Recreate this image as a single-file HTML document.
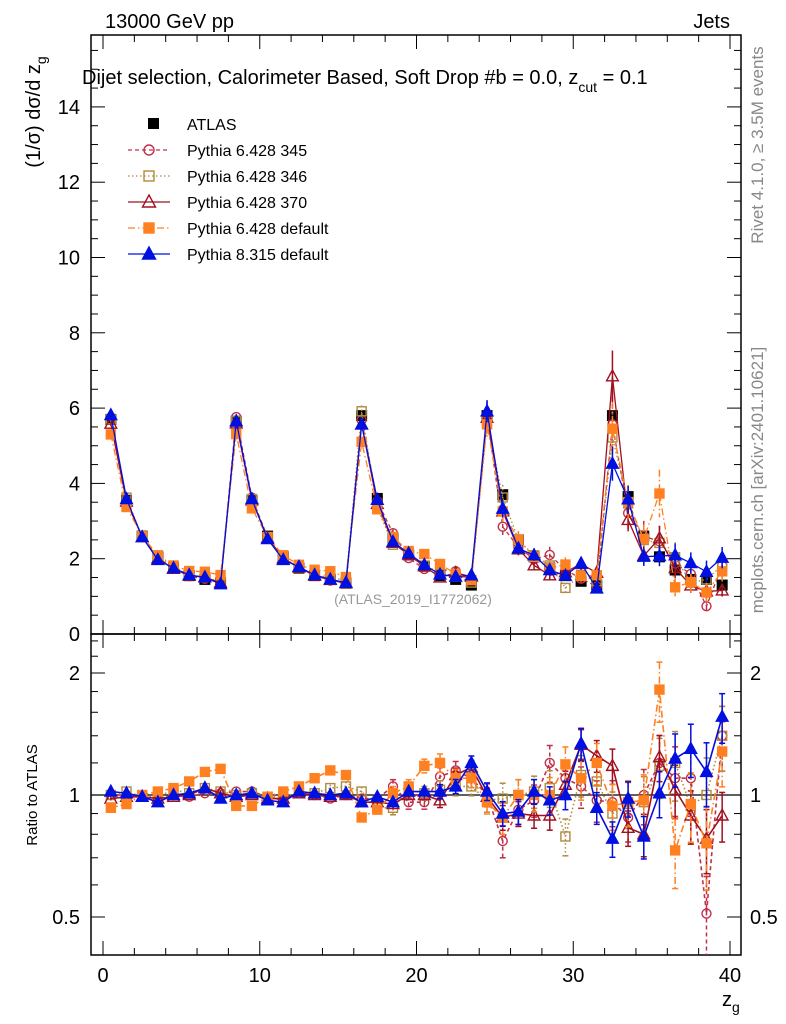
<!DOCTYPE html>
<html><head><meta charset="utf-8"><style>
body{margin:0;background:#fff;}
svg{display:block;font-family:"Liberation Sans",sans-serif;}
</style></head><body>
<svg id="c" width="786" height="1024" viewBox="0 0 786 1024"></svg>
<script>
const bins = Array.from({length:40},(_,i)=>i+0.5);
const atlas = [5.7,3.55,2.6,2.05,1.75,1.55,1.45,1.35, 5.65,3.55,2.6,2.05,1.75,1.55,1.45,1.35, 5.8,3.6,2.55,2.1,1.8,1.55,1.45,1.3, 5.8,3.7,2.5,2.05,1.75,1.55,1.4,1.3, 5.8,3.65,2.6,2.05,1.7,1.45,1.45,1.3];
const r345 = [1.0,1.0,0.99,0.98,1.0,0.99,1.01,1.01,1.02,1.02,0.99,0.97,1.01,1.0,0.98,1.0,0.98,0.98,1.05,0.96, 0.96,1.11,1.15,1.1,1.0,0.77,0.92,0.97,1.2,1.1,1.05,0.97,0.96,0.88,1.0,1.2,1.1,1.1,0.51,1.4];
const r346 = [1.0,1.02,0.99,0.99,1.03,1.01,1.04,1.02,1.0,1.01,0.99,0.99,1.01,1.01,1.04,1.05,1.02,0.93,0.93,1.03, 1.01,1.03,1.05,1.05,0.97,0.98,1.0,1.02,1.04,0.79,1.12,1.08,0.9,0.95,0.96,1.18,1.2,0.94,1.0,1.4];
const r370 = [0.98,0.99,0.99,0.98,0.99,1.0,1.04,1.01,0.99,1.0,0.98,0.98,1.01,1.0,0.99,1.0,0.96,0.96,0.95,1.0, 1.0,0.97,1.12,1.17,0.99,0.88,0.9,0.89,0.89,1.06,1.33,1.25,1.18,0.83,0.8,1.24,1.03,0.89,0.78,0.89];
const rdef6 = [0.93,0.95,1.0,1.02,1.04,1.08,1.14,1.16,0.94,0.94,0.99,1.02,1.05,1.1,1.15,1.12,0.88,0.92,1.01,1.05, 1.18,1.2,1.1,1.1,0.96,0.88,1.0,1.0,1.0,1.19,1.1,1.2,0.94,0.96,0.97,1.82,0.73,0.95,0.76,1.28];
const rpy8 = [1.02,1.01,0.99,0.96,1.0,1.01,1.04,0.98,1.0,1.01,0.97,0.96,1.02,1.01,1.0,1.01,0.96,0.99,0.96,1.02, 1.02,1.02,1.05,1.2,1.02,0.9,0.91,1.02,0.97,1.0,1.34,0.93,0.78,0.98,0.79,1.01,1.23,1.3,1.14,1.56];
const relErr = [0.01,0.01,0.01,0.01,0.01,0.01,0.015,0.015,0.01,0.01,0.01,0.01,0.015,0.015,0.015,0.02,0.02,0.02,0.03,0.03, 0.03,0.04,0.04,0.04,0.05,0.07,0.07,0.07,0.08,0.08,0.09,0.09,0.1,0.1,0.12,0.13,0.15,0.15,0.18,0.14];
const mainYTicks = [0,2,4,6,8,10,12,14];
const xTicks = [0,10,20,30,40];
const ratioTicks = [0.5,1,2];

const NS="http://www.w3.org/2000/svg", svg=document.getElementById('c');
const L=91,R=741,T=35,MB=634,RB=955;
const X=v=>103+v*(730-103)/40;
const Y=v=>634-v*37.65;
const RY=v=>795-122*Math.log2(v);
function el(t,a,p){const e=document.createElementNS(NS,t);for(const k in a)e.setAttribute(k,a[k]);(p||svg).appendChild(e);return e;}
const defs=el('defs',{});
const c1=el('clipPath',{id:'cm'},defs);el('rect',{x:L,y:T,width:R-L,height:MB-T},c1);
const c2=el('clipPath',{id:'cr'},defs);el('rect',{x:L,y:MB,width:R-L,height:RB-MB},c2);

const f1=el('rect',{x:L,y:T,width:R-L,height:MB-T,fill:'none',stroke:'#000','stroke-width':1.5});

const f2=el('rect',{x:L,y:MB,width:R-L,height:RB-MB,fill:'none',stroke:'#000','stroke-width':1.5});


function txt(s,x,y,o){const e=el('text',Object.assign({x:x,y:y,'font-size':20,fill:'#000'},o||{}));e.textContent=s;return e;}

for(let v=0;v<=40;v+=2){const maj=v%10===0,len=maj?14:7;
 [[T,1],[MB,-1],[MB,1],[RB,-1]].forEach(([yy,d])=>el('line',{x1:X(v),x2:X(v),y1:yy,y2:yy+d*len,stroke:'#000','stroke-width':1}));}
xTicks.forEach(v=>{const t=txt(String(v),X(v),982,{'text-anchor':'middle'});});
for(let v=0;v<=15.5;v+=0.5){const maj=v%2===0,len=maj?14:7;if(Y(v)<T)continue;
 el('line',{x1:L,x2:L+len,y1:Y(v),y2:Y(v),stroke:'#000'});el('line',{x1:R,x2:R-len,y1:Y(v),y2:Y(v),stroke:'#000'});}
mainYTicks.forEach(v=>{const t=txt(String(v),80,Y(v)+7,{'text-anchor':'end'});});
const rminor=[0.5,0.6,0.7,0.8,0.9,1,1.2,1.4,1.6,1.8,2,2.2,2.4];
rminor.forEach(v=>{const maj=ratioTicks.includes(v),len=maj?14:7;
 el('line',{x1:L,x2:L+len,y1:RY(v),y2:RY(v),stroke:'#000'});el('line',{x1:R,x2:R-len,y1:RY(v),y2:RY(v),stroke:'#000'});});
ratioTicks.forEach(v=>{const s=String(v);
 const a=txt(s,80,RY(v)+7,{'text-anchor':'end'});
 const b=txt(s,750,RY(v)+7);});
el('line',{x1:L,x2:R,y1:RY(1),y2:RY(1),stroke:'#000','stroke-width':1.2});

const series=[
 {name:'Pythia 6.428 345',r:r345,col:'#c0304a',dash:'4,3',m:'circle',open:true},
 {name:'Pythia 6.428 346',r:r346,col:'#b08a40',dash:'1.5,2.5',m:'square',open:true},
 {name:'Pythia 6.428 370',r:r370,col:'#a01020',dash:'',m:'tri',open:true},
 {name:'Pythia 6.428 default',r:rdef6,col:'#ff8020',dash:'7,3,1.5,3',m:'square',open:false},
 {name:'Pythia 8.315 default',r:rpy8,col:'#0010e0',dash:'',m:'tri',open:false}];
function marker(g,m,x,y,col,open,sz){
 sz=sz||1;const f=open?'none':col,sw=1.4;
 if(m==='circle')return el('circle',{cx:x,cy:y,r:5*sz,fill:'#fff',stroke:col,'stroke-width':sw,'fill-opacity':open?0:1},g);
 if(m==='square')return el('rect',{x:x-5*sz,y:y-5*sz,width:10*sz,height:10*sz,fill:f,stroke:col,'stroke-width':sw},g);
 return el('path',{d:`M${x},${y-7*sz}L${x+6.5*sz},${y+5*sz}L${x-6.5*sz},${y+5*sz}Z`,fill:f,stroke:col,'stroke-width':sw},g);
}
const ga=el('g',{'clip-path':'url(#cm)'});
bins.forEach((b,i)=>{el('rect',{x:X(b)-5.5,y:Y(atlas[i])-5.5,width:11,height:11,fill:'#000'},ga);});
series.forEach((s,si)=>{
 const g=el('g',{'clip-path':'url(#cm)'});
 const gr=el('g',{'clip-path':'url(#cr)'});
 const vals=atlas.map((a,i)=>a*s.r[i]);
 el('polyline',{points:bins.map((b,i)=>X(b)+','+Y(vals[i])).join(' '),fill:'none',stroke:s.col,'stroke-width':1.3,'stroke-dasharray':s.dash},g);
 el('polyline',{points:bins.map((b,i)=>X(b)+','+RY(s.r[i])).join(' '),fill:'none',stroke:s.col,'stroke-width':1.6,'stroke-dasharray':s.dash},gr);
 bins.forEach((b,i)=>{const e=relErr[i]*(si===4||si===2?1:1.3);
  const v=vals[i];el('line',{x1:X(b),x2:X(b),y1:Y(v*(1+e)),y2:Y(v*(1-e)),stroke:s.col,'stroke-width':1.5,'stroke-dasharray':s.dash},g);
  el('line',{x1:X(b),x2:X(b),y1:RY(s.r[i]*(1+e)),y2:RY(s.r[i]*(1-e)),stroke:s.col,'stroke-width':1.5,'stroke-dasharray':s.dash},gr);
  if(e>0.03){[[RY(s.r[i]*(1+e))],[RY(s.r[i]*(1-e))]].forEach(([yy])=>el('line',{x1:X(b)-3,x2:X(b)+3,y1:yy,y2:yy,stroke:s.col,'stroke-width':1.5},gr));}
  marker(g,s.m,X(b),Y(v),s.col,s.open,0.9);marker(gr,s.m,X(b),RY(s.r[i]),s.col,s.open,0.9);});
});
const lg=el('g',{});
el('rect',{x:148,y:118,width:11,height:11,fill:'#000'},lg);
let t0=txt('ATLAS',187,130,{'font-size':16},);lg.appendChild(t0);
series.forEach((s,i)=>{const y=150+26*i;
 el('line',{x1:128,x2:170,y1:y,y2:y,stroke:s.col,'stroke-width':1.3,'stroke-dasharray':s.dash},lg);
 marker(lg,s.m,149,y,s.col,s.open,1);
 const t=txt(s.name,187,y+6,{'font-size':16});lg.appendChild(t);});
</script>
<svg width="786" height="1024" style="position:absolute;left:0;top:0" font-family="Liberation Sans, sans-serif">
<text x="105" y="28" font-size="20">13000 GeV pp</text>
<text x="730" y="28" font-size="20" text-anchor="end">Jets</text>
<text x="82" y="84" font-size="20">Dijet selection, Calorimeter Based, Soft Drop #b = 0.0, z<tspan font-size="14" dy="8">cut</tspan><tspan dy="-8"> = 0.1</tspan></text>
<text x="413" y="604" font-size="14" fill="#999" text-anchor="middle">(ATLAS_2019_I1772062)</text>
<text transform="translate(40,112) rotate(-90)" font-size="20" text-anchor="middle">(1/σ) dσ/d z<tspan font-size="14" dy="6">g</tspan></text>
<text transform="translate(37,795) rotate(-90)" font-size="15" text-anchor="middle">Ratio to ATLAS</text>
<text x="722" y="1006" font-size="20">z<tspan font-size="14" dy="6">g</tspan></text>
<text transform="translate(763,145) rotate(-90)" font-size="17" fill="#888" text-anchor="middle">Rivet 4.1.0, ≥ 3.5M events</text>
<text transform="translate(763,480) rotate(-90)" font-size="17" fill="#888" text-anchor="middle">mcplots.cern.ch [arXiv:2401.10621]</text>
</svg>
</body></html>
